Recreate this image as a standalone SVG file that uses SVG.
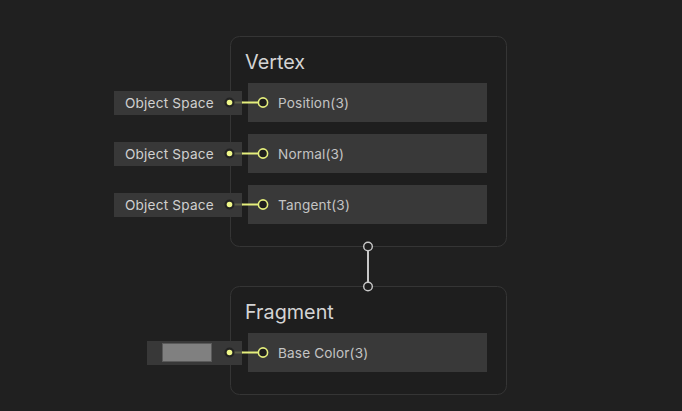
<svg xmlns="http://www.w3.org/2000/svg" width="682" height="411" viewBox="0 0 682 411">
<style>
.node{fill:#1e1e1e;stroke:#353535;stroke-width:1}
.row{fill:#393939}
.lbl{fill:#383838}
.title{font-family:Inter,"Noto Sans",sans-serif;font-size:19.8px;fill:#d4d4d4}
.rt{font-family:Inter,"Noto Sans",sans-serif;font-size:13.6px;letter-spacing:0.15px;fill:#c4c4c4}
.lt{font-family:Inter,"Noto Sans",sans-serif;font-size:13.6px;letter-spacing:0.2px;fill:#d0d0d0}
.port{fill:#1e1e1e;stroke:#e4ee7c;stroke-width:1.6}
.dotbg{fill:#232323}
.dot{fill:#f0f88a}
.wire{stroke:#e4ee7c;stroke-width:2}
.wdim{stroke:#5c5e48;stroke-width:2}
.flow{stroke:#c8c8c8;stroke-width:2}
.fport{fill:#1e1e1e;stroke:#c8c8c8;stroke-width:1.4}
</style>
<rect width="682" height="411" fill="#202020"/>
<g id="vertex">
<rect class="node" x="230.5" y="36.5" width="276" height="210" rx="9"/>
<text class="title" x="245" y="69">Vertex</text>
<rect class="row" x="248" y="83" width="239" height="39"/>
<text class="rt" x="278" y="108">Position(3)</text>
<rect class="row" x="248" y="134" width="239" height="39"/>
<text class="rt" x="278" y="159">Normal(3)</text>
<rect class="row" x="248" y="185" width="239" height="39"/>
<text class="rt" x="278" y="210">Tangent(3)</text>
</g>
<g id="fragment">
<rect class="node" x="230.5" y="286.5" width="276" height="108" rx="9"/>
<text class="title" x="245" y="319">Fragment</text>
<rect class="row" x="248" y="333" width="239" height="39"/>
<text class="rt" x="278" y="358">Base Color(3)</text>
</g>
<g id="input-position">
<rect class="lbl" x="114" y="91" width="128" height="24"/>
<text class="lt" x="125" y="107.5">Object Space</text>
</g>
<g id="input-normal">
<rect class="lbl" x="114" y="142" width="128" height="24"/>
<text class="lt" x="125" y="158.5">Object Space</text>
</g>
<g id="input-tangent">
<rect class="lbl" x="114" y="193" width="128" height="24"/>
<text class="lt" x="125" y="209.5">Object Space</text>
</g>
<g id="input-basecolor">
<rect class="lbl" x="147" y="341" width="95" height="24"/>
<rect x="162.5" y="343.5" width="49" height="18" fill="#808080" stroke="#5a5a5a" stroke-width="1"/>
</g>
<g id="connectors">
<line class="wdim" x1="233" y1="102.5" x2="243" y2="102.5"/>
<line class="wire" x1="242" y1="102.5" x2="259" y2="102.5"/>
<circle class="dotbg" cx="229.5" cy="102.5" r="5"/>
<circle class="dot" cx="229.5" cy="102.5" r="2.8"/>
<circle class="port" cx="263" cy="102.5" r="4.6"/>

<line class="wdim" x1="233" y1="153.5" x2="243" y2="153.5"/>
<line class="wire" x1="242" y1="153.5" x2="259" y2="153.5"/>
<circle class="dotbg" cx="229.5" cy="153.5" r="5"/>
<circle class="dot" cx="229.5" cy="153.5" r="2.8"/>
<circle class="port" cx="263" cy="153.5" r="4.6"/>

<line class="wdim" x1="233" y1="204.5" x2="243" y2="204.5"/>
<line class="wire" x1="242" y1="204.5" x2="259" y2="204.5"/>
<circle class="dotbg" cx="229.5" cy="204.5" r="5"/>
<circle class="dot" cx="229.5" cy="204.5" r="2.8"/>
<circle class="port" cx="263" cy="204.5" r="4.6"/>

<line class="wdim" x1="233" y1="352.5" x2="243" y2="352.5"/>
<line class="wire" x1="242" y1="352.5" x2="259" y2="352.5"/>
<circle class="dotbg" cx="229.5" cy="352.5" r="5"/>
<circle class="dot" cx="229.5" cy="352.5" r="2.8"/>
<circle class="port" cx="263" cy="352.5" r="4.6"/>

<line class="flow" x1="368" y1="250" x2="368" y2="283"/>
<circle class="fport" cx="368" cy="246.5" r="4.3"/>
<circle class="fport" cx="368" cy="286.5" r="4.3"/>
</g>
</svg>
